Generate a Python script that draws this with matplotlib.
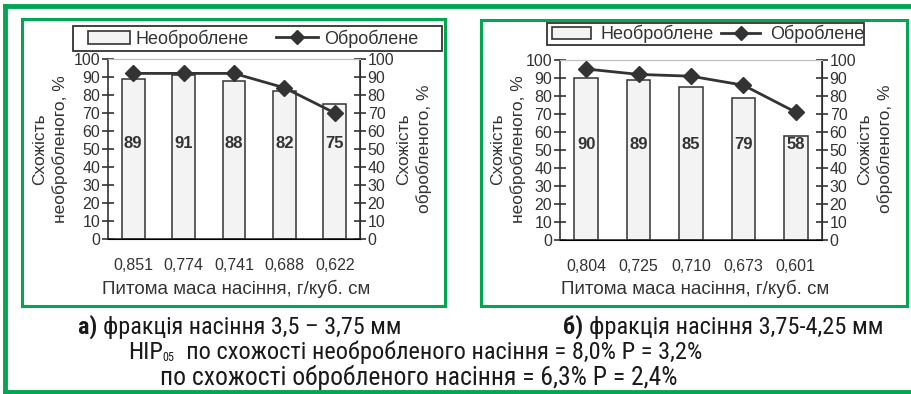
import numpy as np
import matplotlib.pyplot as plt
from matplotlib import patches, font_manager
from matplotlib.lines import Line2D

plt.rcParams['font.family'] = ['Liberation Sans', 'DejaVu Sans']

# data
labels_a = ['0,851', '0,774', '0,741', '0,688', '0,622']
untreated_a = [89, 91, 88, 82, 75]
treated_a = [92, 92, 92, 84, 70]

labels_b = ['0,804', '0,725', '0,710', '0,673', '0,601']
untreated_b = [90, 89, 85, 79, 58]
treated_b = [95, 92, 91, 86, 71]

xlabel = 'Питома маса насіння, г/куб. см'
ylabel_left = 'Схожість\nнеобробленого, %'
ylabel_right = 'Схожість\nобробленого, %'
legend_labels = ['Необроблене', 'Оброблене']

W, H = 912, 394
GREEN = '#00a651'
DARK = '#333333'
TXT = '#1a1a1a'

fig = plt.figure(figsize=(W / 100, H / 100), dpi=100)


def fx(x):
    return x / W


def fy(y):
    return 1 - y / H


def px(x0, y0, x1, y1):
    # pixel box (top-left origin) -> figure fraction rect
    return [x0 / W, 1 - y1 / H, (x1 - x0) / W, (y1 - y0) / H]


def panel(box, labels, bars, line, ylab_x, xlab_c, leg_box, leg_opts):
    ax = fig.add_axes(px(*box))
    x = np.arange(len(labels))
    ax.bar(x, bars, width=0.45, color='#f3f3f3', edgecolor=DARK, linewidth=1.1, zorder=2)
    for xi, v in zip(x, bars):
        ax.text(xi, 53, str(v), ha='center', va='center', fontsize=12,
                fontweight='bold', color=DARK, zorder=3)
    ax2 = ax.twinx()
    ax2.plot(x, line, color=DARK, lw=2, marker='D', ms=8, zorder=4)
    for a in (ax, ax2):
        a.set_ylim(0, 100)
        a.set_yticks(range(0, 101, 10))
        a.set_xlim(-0.5, len(labels) - 0.5)
        a.tick_params(axis='y', direction='inout', length=9, width=1.2, color=DARK,
                      labelsize=11.5, labelcolor=DARK, pad=1)
        a.spines['top'].set_color('#c0c0c0')
    for a, side in ((ax, 'left'), (ax2, 'right'), (ax, 'bottom')):
        a.spines[side].set_color(DARK)
        a.spines[side].set_linewidth(1.2)
    ax2.spines['left'].set_visible(False)
    ax.set_xticks(x)
    ax.set_xticklabels(labels)
    ax.tick_params(axis='x', length=0, pad=14, labelsize=11.5, labelcolor=DARK)

    # axis titles placed by pixel centre
    fig.text(fx(xlab_c), fy(289), xlabel, ha='center', va='center', fontsize=13.5,
             color=DARK)
    for (xc, s) in zip(ylab_x, (ylabel_left, ylabel_right)):
        fig.text(fx(xc), fy(149), s, rotation=90, ha='center', va='center',
                 multialignment='center', fontsize=12.5, linespacing=1.35, color=DARK)
    ax2.set_zorder(ax.get_zorder() + 1)
    ax2.patch.set_visible(False)

    # legend
    h_bar = patches.Patch(facecolor='#f3f3f3', edgecolor=DARK, linewidth=1.2)
    h_line = Line2D([], [], color=DARK, lw=2, marker='D', ms=7)
    lx0, ly0, lx1, ly1, hx = leg_box
    fig.patches.append(patches.Rectangle((fx(lx0), fy(ly1)), fx(lx1 - lx0), (ly1 - ly0) / H,
                                         transform=fig.transFigure, fill=False,
                                         edgecolor=DARK, linewidth=1.3))
    leg = fig.legend([h_bar, h_line], legend_labels, ncol=2, loc='center left',
                     bbox_to_anchor=(fx(hx), fy((ly0 + ly1) / 2)), frameon=False,
                     fontsize=13, borderpad=0, borderaxespad=0, handleheight=0.7,
                     **leg_opts)
    for t in leg.get_texts():
        t.set_color(DARK)
    return ax


panel((108, 59, 360, 239), labels_a, untreated_a, treated_a, (50, 414), 236,
      (73, 26, 442, 51, 88), dict(handlelength=2.3, handletextpad=0.35, columnspacing=1.5))
panel((560, 60, 822, 240), labels_b, untreated_b, treated_b, (508, 875), 695,
      (547, 23, 864, 45, 552), dict(handlelength=2.15, handletextpad=0.55, columnspacing=0.4))

# frames
for (x0, y0, x1, y1) in [(22, 19, 445, 306), (481, 20, 907, 306)]:
    fig.patches.append(patches.Rectangle((fx(x0), fy(y1)), fx(x1 - x0), (y1 - y0) / H,
                                         transform=fig.transFigure, fill=False,
                                         edgecolor=GREEN, linewidth=2.2))
fig.add_artist(Line2D([fx(5), 1], [fy(6)] * 2, color=GREEN, lw=3.5, transform=fig.transFigure))
fig.add_artist(Line2D([fx(5)] * 2, [fy(6), fy(392)], color=GREEN, lw=3.5,
                      transform=fig.transFigure))
fig.add_artist(Line2D([fx(5), 1], [fy(392)] * 2, color=GREEN, lw=3.5,
                      transform=fig.transFigure))

# caption font: a narrow face if one is installed
names = {f.name for f in font_manager.fontManager.ttflist}
narrow = 'Liberation Sans'
for cand in ['Liberation Sans Narrow', 'Arial Narrow', 'Nimbus Sans Narrow',
             'Noto Sans Condensed', 'Roboto Condensed', 'DejaVu Sans Condensed']:
    if cand in names:
        narrow = cand
        break
cap_family = [narrow, 'DejaVu Sans']

renderer = fig.canvas.get_renderer()


def caption(x0, x1, y, pieces):
    # pieces: (text, weight, size factor, dy in px); fit total width to x0..x1
    base = 10.0
    widths = []
    for s, w, k, dy in pieces:
        t = fig.text(0, 0, s, fontsize=base * k, fontweight=w, family=cap_family)
        widths.append(t.get_window_extent(renderer).width)
        t.remove()
    scale = 0.97 * (x1 - x0) / sum(widths)
    x = x0
    for (s, w, k, dy), wd in zip(pieces, widths):
        fig.text(fx(x), fy(y + dy), s, fontsize=base * k * scale, fontweight=w,
                 family=cap_family, va='baseline', color=TXT)
        x += wd * scale


caption(78, 410, 334, [('а) ', 'bold', 1, 0), ('фракція насіння 3,5 – 3,75 мм', 'normal', 1, 0)])
caption(563, 893, 334, [('б) ', 'bold', 1, 0), ('фракція насіння 3,75-4,25 мм', 'normal', 1, 0)])
caption(128, 718, 359, [('НІР', 'normal', 1, 0), ('05', 'normal', 0.5, 2),
                        ('  по схожості необробленого насіння = 8,0% Р = 3,2%', 'normal', 1, 0)])
caption(160, 692, 385, [('по схожості обробленого насіння = 6,3% Р = 2,4%', 'normal', 1, 0)])

fig.savefig('out.png', dpi=100)
